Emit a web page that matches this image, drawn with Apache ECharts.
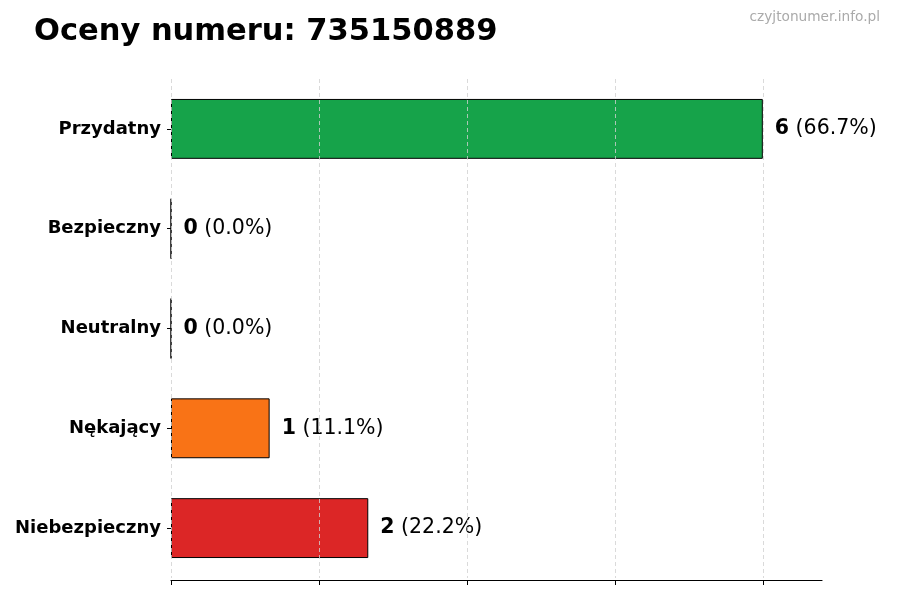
<!DOCTYPE html>
<html><head><meta charset="utf-8">
<script src="https://cdn.jsdelivr.net/npm/echarts@6/dist/echarts.min.js"></script>
<style>html,body{margin:0;padding:0;background:#fff}#c{width:900px;height:600px}</style>
</head><body><div id="c"></div>
<script>
const categories = ['Przydatny', 'Bezpieczny', 'Neutralny', 'Nękający', 'Niebezpieczny'];
const values = [6, 0, 0, 1, 2];
const percents = ['66.7%', '0.0%', '0.0%', '11.1%', '22.2%'];
const colors = ['#16a34a', '#22c55e', '#9ca3af', '#f97316', '#dc2626'];
const xTicks = [0, 1.5, 3, 4.5, 6];
const titleText = 'Oceny numeru: 735150889';
const watermark = 'czyjtonumer.info.pl';

const chart = echarts.init(document.getElementById('c'), null, {renderer: 'canvas'});
const F = 'DejaVu Sans';
chart.setOption({
  animation: false,
  backgroundColor: '#fff',
  title: [
    {text: titleText, left: 29, top: 12, textStyle: {fontFamily: F, fontWeight: 'bold', fontSize: 30.5, color: '#000'}},
    {text: watermark, right: 15, top: 5, textStyle: {fontFamily: F, fontWeight: 'normal', fontSize: 13.7, color: '#aaaaaa'}}
  ],
  grid: {left: 171, right: 78, top: 79, bottom: 22, containLabel: false},
  xAxis: {
    type: 'value', min: 0, max: 6.6, interval: 1.5, z: 5, offset: 2,
    axisLine: {show: true, lineStyle: {color: '#000', width: 1.2}},
    axisTick: {show: true, length: 5, lineStyle: {color: '#000'}, customValues: xTicks},
    axisLabel: {show: false},
    splitLine: {show: true, lineStyle: {color: '#d0d0d0', type: [4, 3], width: 0.8}}
  },
  yAxis: {
    type: 'category', data: categories, inverse: true,
    axisLine: {show: false},
    axisTick: {show: true, alignWithLabel: true, length: 4, lineStyle: {color: '#000'}},
    axisLabel: {fontFamily: F, fontWeight: 'bold', fontSize: 18, color: '#000', margin: 10},
    splitLine: {show: false}
  },
  series: [{
    type: 'bar', barWidth: '60%', z: 2,
    data: values.map((v, i) => ({value: v, itemStyle: {color: colors[i]}})),
    itemStyle: {borderColor: '#000', borderWidth: 1},
    label: {
      show: true, position: 'right', distance: 12,
      formatter: p => '{b|' + values[p.dataIndex] + '}{n| (' + percents[p.dataIndex] + ')}',
      rich: {
        b: {fontFamily: F, fontWeight: 'bold', fontSize: 20.5, color: '#000'},
        n: {fontFamily: F, fontSize: 20.5, color: '#000'}
      }
    }
  }]
});
</script></body></html>
